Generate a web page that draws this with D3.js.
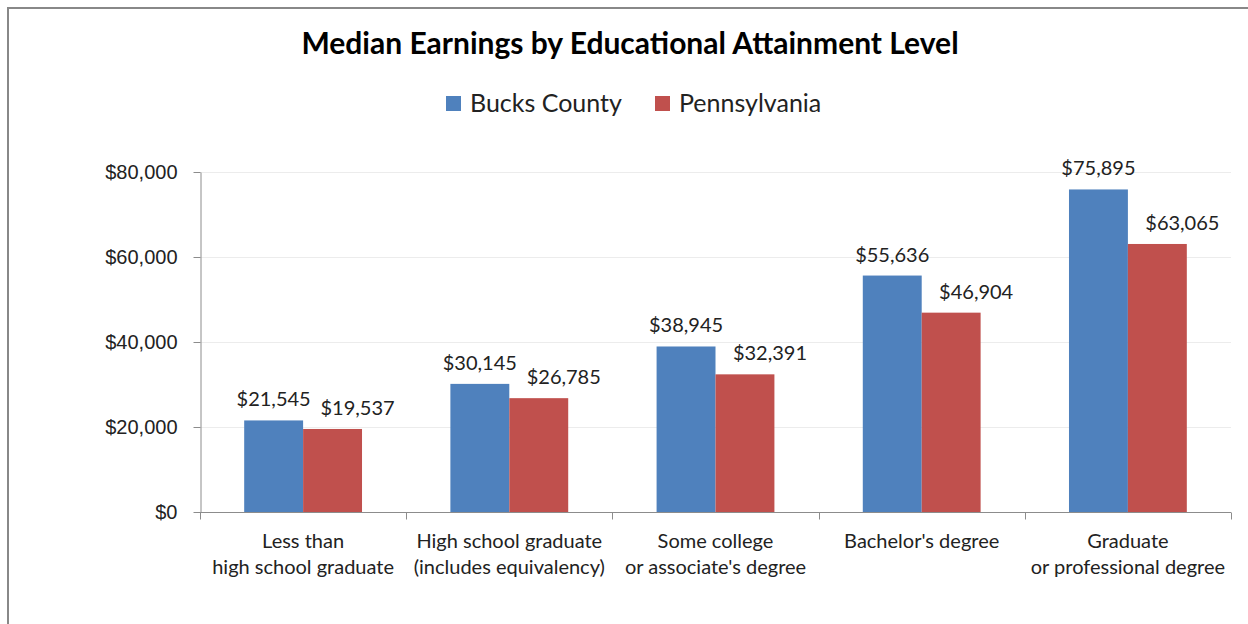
<!DOCTYPE html>
<html>
<head>
<meta charset="utf-8">
<title>Median Earnings by Educational Attainment Level</title>
<script src="https://cdn.jsdelivr.net/npm/d3@7"></script>
<style type="text/css">
body { margin: 0; background: #fff; }
svg { display: block; font-family: Lato, "Open Sans", sans-serif; }
.axis path, .axis line { stroke: #8c8c8c; }
.axis text { fill: #222; }
</style>
</head>
<body>
<div id="chart"></div>
<script type="text/javascript">
var categories = [
  ["Less than", "high school graduate"],
  ["High school graduate", "(includes equivalency)"],
  ["Some college", "or associate's degree"],
  ["Bachelor's degree"],
  ["Graduate", "or professional degree"]
];
var seriesNames = ["Bucks County", "Pennsylvania"];
var bucks = [21545, 30145, 38945, 55636, 75895];
var penn = [19537, 26785, 32391, 46904, 63065];
var yTicks = [0, 20000, 40000, 60000, 80000];
var colors = ["#4f81bd", "#c0504d"];

var W = 1248, H = 624;
var margin = {left: 200, right: 17, top: 172, bottom: 112};

var svg = d3.select("#chart").append("svg")
  .attr("width", W).attr("height", H);

/* outer frame, right and bottom edges fall outside the picture */
svg.append("rect")
  .attr("x", 8).attr("y", 8)
  .attr("width", W + 20).attr("height", H + 20)
  .attr("fill", "#fff").attr("stroke", "#888").attr("stroke-width", 2);

svg.append("text")
  .attr("x", 630).attr("y", 54)
  .attr("text-anchor", "middle")
  .style("font-size", "30px").style("font-weight", "bold")
  .text("Median Earnings by Educational Attainment Level");

var x0 = d3.scaleBand()
  .domain(d3.range(categories.length))
  .range([margin.left, W - margin.right]);
var y = d3.scaleLinear().domain([0, 80000]).range([H - margin.bottom, margin.top]);
var x1 = d3.scaleBand().domain([0, 1])
  .range([0, x0.bandwidth()]).paddingOuter(0.75);

// gridlines
svg.append("g").selectAll("line").data(yTicks.slice(1)).enter().append("line")
  .attr("x1", margin.left).attr("x2", W - margin.right)
  .attr("y1", function(d) { return y(d) + 0.5; })
  .attr("y2", function(d) { return y(d) + 0.5; })
  .attr("stroke", "#ececec");

var yAxis = svg.append("g").attr("class", "axis")
  .attr("transform", "translate(" + (margin.left + 0.5) + ",0)")
  .call(d3.axisLeft(y).tickValues(yTicks).tickSize(7).tickSizeOuter(0)
    .tickPadding(16).tickFormat(d3.format("$,")));
yAxis.selectAll("text").style("font-size", "20px");

var series = [bucks, penn];
// Pennsylvania labels sit shifted to the right, as in the original
var labelShift = [0, 25];
var groups = svg.append("g").selectAll("g").data(categories).enter().append("g")
  .attr("transform", function(d, i) { return "translate(" + x0(i) + ",0)"; });

groups.selectAll("rect").data(function(d, i) { return series.map(function(s) { return s[i]; }); })
  .enter().append("rect")
  .attr("x", function(d, j) { return x1(j); })
  .attr("width", x1.bandwidth())
  .attr("y", function(d) { return y(d); })
  .attr("height", function(d) { return y(0) - y(d); })
  .attr("fill", function(d, j) { return colors[j]; });

groups.selectAll("text.val").data(function(d, i) { return series.map(function(s) { return s[i]; }); })
  .enter().append("text").attr("class", "val")
  .attr("x", function(d, j) { return x1(j) + x1.bandwidth() / 2 + labelShift[j]; })
  .attr("y", function(d) { return y(d) - 14; })
  .attr("text-anchor", "middle")
  .style("font-size", "20px").style("fill", "#222")
  .text(function(d) { return d3.format("$,")(d); });

// x axis with ticks between categories
var xAxis = svg.append("g").attr("class", "axis")
  .attr("transform", "translate(0," + (y(0) + 0.5) + ")");
xAxis.append("line").attr("x1", margin.left).attr("x2", W - margin.right);
xAxis.selectAll("line.tk").data(d3.range(categories.length + 1)).enter().append("line")
  .attr("class", "tk")
  .attr("x1", function(i) { return Math.round(margin.left + i * x0.step()) + 0.5; })
  .attr("x2", function(i) { return Math.round(margin.left + i * x0.step()) + 0.5; })
  .attr("y1", 0).attr("y2", 7);

var labels = xAxis.selectAll("text").data(categories).enter().append("text")
  .attr("text-anchor", "middle")
  .attr("x", function(d, i) { return x0(i) + x0.bandwidth() / 2; })
  .style("font-size", "20px");
labels.selectAll("tspan").data(function(d) { return d; }).enter().append("tspan")
  .attr("x", function() { return d3.select(this.parentNode).attr("x"); })
  .attr("y", function(d, k) { return 35 + k * 26; })
  .text(function(d) { return d; });

// legend
var legX = [446, 655];
var leg = svg.append("g").selectAll("g").data(seriesNames).enter().append("g")
  .attr("transform", function(d, i) { return "translate(" + legX[i] + ",96)"; });
leg.append("rect").attr("width", 15).attr("height", 15)
  .attr("fill", function(d, i) { return colors[i]; });
leg.append("text").attr("x", 24).attr("y", 16)
  .style("font-size", "25px").style("fill", "#222")
  .text(function(d) { return d; });
</script>
</body>
</html>
